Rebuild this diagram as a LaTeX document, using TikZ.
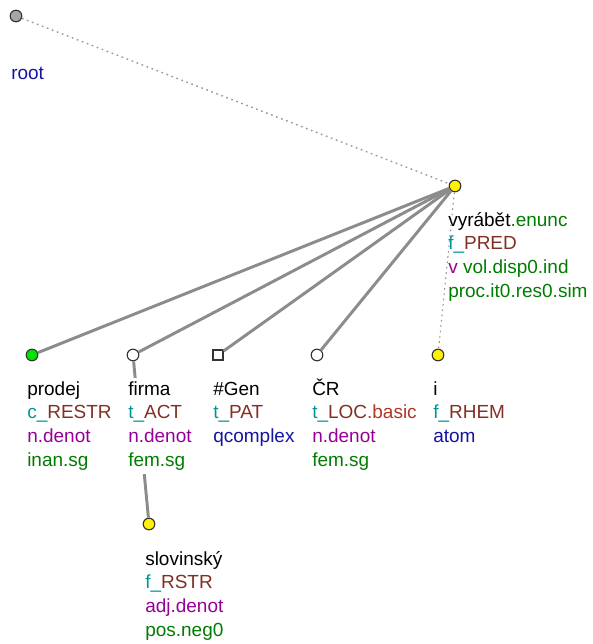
\documentclass[tikz,border=0pt]{standalone}
\usepackage{fontspec}
\setmainfont{Liberation Sans}
\usepackage{xcolor}
\usetikzlibrary{positioning}

\definecolor{functor}{RGB}{0,150,150}
\definecolor{fname}{RGB}{128,48,36}
\definecolor{subf}{RGB}{178,52,40}
\definecolor{gram}{RGB}{150,0,150}
\definecolor{gramb}{RGB}{0,125,0}
\definecolor{nodet}{RGB}{20,20,160}

\newcommand{\tlab}[1]{\begin{tabular}[t]{@{}l@{}}#1\end{tabular}}
\newcommand{\fn}[2]{\textcolor{functor}{#1\_}\textcolor{fname}{#2}}

\begin{document}
\begin{tikzpicture}[x=0.025cm, y=-0.025cm,
  tnode/.style={circle, draw=black!80, line width=0.8pt, fill=white, minimum size=0.29cm, inner sep=0pt},
  gennode/.style={rectangle, draw=black!80, line width=0.8pt, fill=white, minimum size=0.25cm, inner sep=0pt},
  edge/.style={draw=black!45, line width=2.1pt},
  hidden/.style={draw=black!40, line width=1pt, dash pattern=on 1.2pt off 2.6pt},
  lbl/.style={anchor=base west, inner sep=0pt, fill=white, font=\fontsize{13.5}{17}\selectfont}
]
\useasboundingbox (0,0) rectangle (592,644);
% tree nodes
\node[tnode, fill=black!35] (root) at (16,16) {};
\node[tnode, fill=yellow] (vyrabet) at (455,186) {};
\node[tnode, fill=green!90!black] (prodej) at (32,355) {};
\node[tnode] (firma) at (133,355) {};
\node[gennode] (gen) at (218,355) {};
\node[tnode] (cr) at (317,355) {};
\node[tnode, fill=yellow] (i) at (438,355) {};
\node[tnode, fill=yellow] (slovinsky) at (149,524) {};
% edges
\draw[hidden] (root) -- (vyrabet);
\draw[edge] (vyrabet) -- (prodej);
\draw[edge] (vyrabet) -- (firma);
\draw[edge] (vyrabet) -- (gen);
\draw[edge] (vyrabet) -- (cr);
\draw[edge] (firma) -- (slovinsky);
% labels
\node[lbl] (root-l) at (11,80) {\tlab{\textcolor{nodet}{root}}};
\node[lbl] (vyrabet-l) at (448,226) {\tlab{vyrábět\textcolor{gramb}{.enunc}\\
  \fn{f}{PRED}\\
  \textcolor{gram}{v} \textcolor{gramb}{vol.disp0.ind}\\
  \textcolor{gramb}{proc.it0.res0.sim}}};
\node[lbl] (prodej-l) at (27,395) {\tlab{prodej\\ \fn{c}{RESTR}\\
  \textcolor{gram}{n.denot}\\ \textcolor{gramb}{inan.sg}}};
\node[lbl] (firma-l) at (128,395) {\tlab{firma\\ \fn{t}{ACT}\\
  \textcolor{gram}{n.denot}\\ \textcolor{gramb}{fem.sg}}};
\node[lbl] (gen-l) at (213,395) {\tlab{\#Gen\\ \fn{t}{PAT}\\
  \textcolor{nodet}{qcomplex}}};
\node[lbl] (cr-l) at (312,395) {\tlab{ČR\\ \fn{t}{LOC}\textcolor{subf}{.basic}\\
  \textcolor{gram}{n.denot}\\ \textcolor{gramb}{fem.sg}}};
\node[lbl] (i-l) at (433,395) {\tlab{i\\ \fn{f}{RHEM}\\
  \textcolor{nodet}{atom}}};
\node[lbl] (slovinsky-l) at (145,565) {\tlab{slovinský\\ \fn{f}{RSTR}\\
  \textcolor{gram}{adj.denot}\\ \textcolor{gramb}{pos.neg0}}};
% coreference-free hidden edge over the labels
\draw[hidden, line width=0.8pt] (vyrabet) -- (i);
\end{tikzpicture}
\end{document}
